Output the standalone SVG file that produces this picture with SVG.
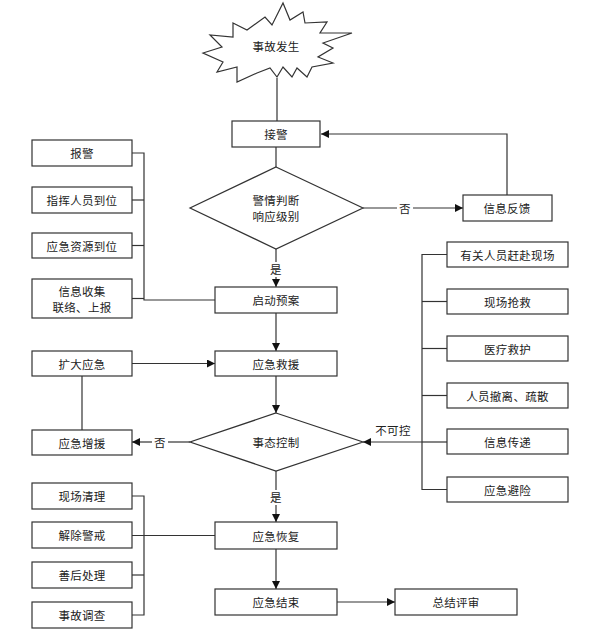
<svg xmlns="http://www.w3.org/2000/svg" width="598" height="633" viewBox="0 0 598 633">
<style>
.b{fill:#fff;stroke:#333;stroke-width:1.2}
.t{font-family:"Noto Sans CJK SC","Noto Sans",sans-serif;font-size:11.5px;fill:#222;text-anchor:middle;dominant-baseline:central;letter-spacing:0.3px}
.c{fill:none;stroke:#333;stroke-width:1.2}
</style>
<defs>
<marker id="ar" viewBox="0 0 10 10" refX="10" refY="5" markerWidth="8" markerHeight="8" markerUnits="userSpaceOnUse" orient="auto">
<path d="M0,0 L10,5 L0,10 z" fill="#111"/>
</marker>
</defs>
<rect width="598" height="633" fill="#fff"/>
<g id="connectors">
<line class="c" x1="277" y1="78" x2="277" y2="121"/>
<line class="c" x1="276" y1="147" x2="276" y2="167"/>
<polyline class="c" points="507,195 507,134 321,134" marker-end="url(#ar)"/>
<line class="c" x1="363" y1="208" x2="397" y2="208"/>
<line class="c" x1="413" y1="208" x2="463" y2="208" marker-end="url(#ar)"/>
<line class="c" x1="276" y1="249" x2="276" y2="262"/>
<line class="c" x1="276" y1="277" x2="276" y2="287" marker-end="url(#ar)"/>
<polyline class="c" points="132,153 144,153 144,300 215,300"/>
<line class="c" x1="132" y1="200" x2="144" y2="200"/>
<line class="c" x1="132" y1="245.5" x2="144" y2="245.5"/>
<line class="c" x1="132" y1="298.5" x2="144" y2="298.5"/>
<line class="c" x1="276" y1="313" x2="276" y2="351" marker-end="url(#ar)"/>
<line class="c" x1="132" y1="363.5" x2="215" y2="363.5" marker-end="url(#ar)"/>
<line class="c" x1="276" y1="376" x2="276" y2="413" marker-end="url(#ar)"/>
<line class="c" x1="82" y1="376" x2="82" y2="430"/>
<line class="c" x1="190" y1="442" x2="168" y2="442"/>
<line class="c" x1="152" y1="442" x2="132" y2="442" marker-end="url(#ar)"/>
<polyline class="c" points="447,254.5 422,254.5 422,489.5 447,489.5"/>
<line class="c" x1="422" y1="301.5" x2="447" y2="301.5"/>
<line class="c" x1="422" y1="348.5" x2="447" y2="348.5"/>
<line class="c" x1="422" y1="395.5" x2="447" y2="395.5"/>
<line class="c" x1="422" y1="442" x2="447" y2="442"/>
<line class="c" x1="422" y1="442" x2="363" y2="442" stroke-width="2" marker-end="url(#ar)"/>
<line class="c" x1="276" y1="471" x2="276" y2="490"/>
<line class="c" x1="276" y1="505" x2="276" y2="522" marker-end="url(#ar)"/>
<polyline class="c" points="132,496 144,496 144,615 132,615"/>
<line class="c" x1="132" y1="535.5" x2="215" y2="535.5"/>
<line class="c" x1="132" y1="575" x2="144" y2="575"/>
<line class="c" x1="276" y1="549" x2="276" y2="589" marker-end="url(#ar)"/>
<line class="c" x1="337" y1="602" x2="395" y2="602" marker-end="url(#ar)"/>
<text class="t" x="405" y="208">否</text>
<text class="t" x="276" y="269">是</text>
<text class="t" x="160" y="442">否</text>
<text class="t" x="393" y="430">不可控</text>
<text class="t" x="276" y="497">是</text>
</g>
<g id="n-start">
<polygon class="b" points="233,23 247,30 265,17 272,25 283,3 290,20 303,12 305,23 327,22 320,33 352,33 323,43 333,48 318,57 333,63 312,67 307,77 297,68 292,77 283,67 277,77 270,68 257,73 237,82 237,67 217,72 223,62 203,53 222,47 210,35 233,37"/>
<text class="t" x="276" y="46">事故发生</text>
</g>
<g id="n-jiejing"><rect class="b" x="232" y="121" width="88" height="26"/><text class="t" x="276" y="134">接警</text></g>
<g id="n-judge"><polygon class="b" points="276,167 363,208 276,249 190,208"/><text class="t" x="276" y="200">警情判断</text><text class="t" x="276" y="216">响应级别</text></g>
<g id="n-feedback"><rect class="b" x="463" y="195" width="89" height="26"/><text class="t" x="507" y="208">信息反馈</text></g>
<g id="n-baojing"><rect class="b" x="32" y="140" width="100" height="26"/><text class="t" x="82" y="153">报警</text></g>
<g id="n-zhihui"><rect class="b" x="32" y="187" width="100" height="26"/><text class="t" x="82" y="200">指挥人员到位</text></g>
<g id="n-ziyuan"><rect class="b" x="32" y="233" width="100" height="25"/><text class="t" x="82" y="245.5">应急资源到位</text></g>
<g id="n-xinxi"><rect class="b" x="32" y="279" width="100" height="39"/><text class="t" x="82" y="291">信息收集</text><text class="t" x="82" y="307">联络、上报</text></g>
<g id="n-qidong"><rect class="b" x="215" y="287" width="122" height="26"/><text class="t" x="276" y="300">启动预案</text></g>
<g id="n-kuoda"><rect class="b" x="32" y="351" width="100" height="25"/><text class="t" x="82" y="363.5">扩大应急</text></g>
<g id="n-jiuyuan"><rect class="b" x="215" y="351" width="122" height="25"/><text class="t" x="276" y="363.5">应急救援</text></g>
<g id="n-control"><polygon class="b" points="276,413 363,442 276,471 190,442"/><text class="t" x="276" y="442">事态控制</text></g>
<g id="n-zengyuan"><rect class="b" x="32" y="430" width="100" height="25"/><text class="t" x="82" y="442.5">应急增援</text></g>
<g id="n-r1"><rect class="b" x="447" y="242" width="121" height="25"/><text class="t" x="507.5" y="254.5">有关人员赶赴现场</text></g>
<g id="n-r2"><rect class="b" x="447" y="289" width="121" height="25"/><text class="t" x="507.5" y="301.5">现场抢救</text></g>
<g id="n-r3"><rect class="b" x="447" y="336" width="121" height="25"/><text class="t" x="507.5" y="348.5">医疗救护</text></g>
<g id="n-r4"><rect class="b" x="447" y="383" width="121" height="25"/><text class="t" x="507.5" y="395.5">人员撤离、疏散</text></g>
<g id="n-r5"><rect class="b" x="447" y="429" width="121" height="25"/><text class="t" x="507.5" y="441.5">信息传递</text></g>
<g id="n-r6"><rect class="b" x="447" y="477" width="121" height="25"/><text class="t" x="507.5" y="489.5">应急避险</text></g>
<g id="n-l1"><rect class="b" x="32" y="483" width="100" height="26"/><text class="t" x="82" y="496">现场清理</text></g>
<g id="n-l2"><rect class="b" x="32" y="522" width="100" height="26"/><text class="t" x="82" y="535">解除警戒</text></g>
<g id="n-l3"><rect class="b" x="32" y="562" width="100" height="26"/><text class="t" x="82" y="575">善后处理</text></g>
<g id="n-l4"><rect class="b" x="32" y="602" width="100" height="26"/><text class="t" x="82" y="615">事故调查</text></g>
<g id="n-huifu"><rect class="b" x="215" y="522" width="122" height="27"/><text class="t" x="276" y="535.5">应急恢复</text></g>
<g id="n-jieshu"><rect class="b" x="215" y="589" width="122" height="26"/><text class="t" x="276" y="602">应急结束</text></g>
<g id="n-pingshen"><rect class="b" x="395" y="589" width="122" height="26"/><text class="t" x="456" y="602">总结评审</text></g>
</svg>
